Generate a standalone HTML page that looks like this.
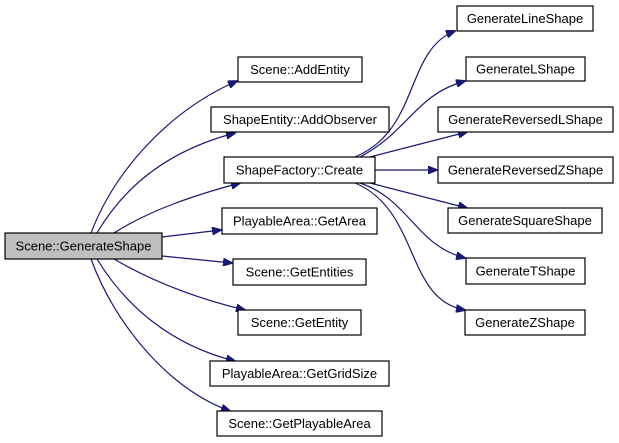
<!DOCTYPE html>
<html><head><meta charset="utf-8"><style>
html,body{margin:0;padding:0;background:#fff;}
svg{display:block;}
text{font-family:"Liberation Sans",Arial,sans-serif;font-size:13px;fill:#000;text-anchor:middle;}
.b{fill:#fff;stroke:#000;stroke-width:1.2;}
.e{fill:none;stroke:#191970;stroke-width:1.2;}
</style></head><body>
<svg width="619" height="443" viewBox="0 0 619 443" xmlns="http://www.w3.org/2000/svg">
<defs><marker id="a" markerWidth="10" markerHeight="8" refX="9" refY="4" orient="auto" markerUnits="userSpaceOnUse"><path d="M0,0 L10,4 L0,8 z" fill="#191970" stroke="#191970"/></marker></defs>
<path class="e" marker-end="url(#a)" d="M91,233 C115,170 170,110 237,81"/>
<path class="e" marker-end="url(#a)" d="M97,233 C125,185 170,150 235,133"/>
<path class="e" marker-end="url(#a)" d="M114,233 C150,210 195,195 240,183"/>
<path class="e" marker-end="url(#a)" d="M162,237 L221,230"/>
<path class="e" marker-end="url(#a)" d="M162,256 L232,263"/>
<path class="e" marker-end="url(#a)" d="M114,259 C150,280 195,298 245,310"/>
<path class="e" marker-end="url(#a)" d="M97,259 C125,305 170,345 235,361"/>
<path class="e" marker-end="url(#a)" d="M91,259 C115,325 170,390 230,411"/>
<path class="e" marker-end="url(#a)" d="M355,157 C420,130 405,50 455,31"/>
<path class="e" marker-end="url(#a)" d="M360,157 C410,130 415,95 465,81"/>
<path class="e" marker-end="url(#a)" d="M370,157 L467,132"/>
<path class="e" marker-end="url(#a)" d="M375,170 L437,170"/>
<path class="e" marker-end="url(#a)" d="M370,183 L467,208"/>
<path class="e" marker-end="url(#a)" d="M360,183 C410,200 415,245 465,258"/>
<path class="e" marker-end="url(#a)" d="M355,183 C420,210 405,300 465,310"/>
<rect x="5" y="233" width="157" height="26" fill="#bfbfbf" stroke="#000" stroke-width="1.2"/>
<text x="83.5" y="250.5">Scene::GenerateShape</text>
<rect class="b" x="238" y="57" width="124" height="25"/><text x="300" y="74">Scene::AddEntity</text>
<rect class="b" x="211" y="107" width="178" height="25"/><text x="300" y="124">ShapeEntity::AddObserver</text>
<rect class="b" x="224" y="157" width="151" height="26"/><text x="299.5" y="174.5">ShapeFactory::Create</text>
<rect class="b" x="222" y="208" width="155" height="26"/><text x="299.5" y="225.5">PlayableArea::GetArea</text>
<rect class="b" x="233" y="259" width="133" height="26"/><text x="299.5" y="276.5">Scene::GetEntities</text>
<rect class="b" x="238" y="310" width="123" height="25"/><text x="299.5" y="327">Scene::GetEntity</text>
<rect class="b" x="210" y="361" width="179" height="25"/><text x="299.5" y="378">PlayableArea::GetGridSize</text>
<rect class="b" x="217" y="411" width="165" height="25"/><text x="299.5" y="428">Scene::GetPlayableArea</text>
<rect class="b" x="457" y="6" width="136" height="25"/><text x="525" y="23">GenerateLineShape</text>
<rect class="b" x="466" y="57" width="119" height="24"/><text x="525.5" y="73.5">GenerateLShape</text>
<rect class="b" x="438" y="107" width="175" height="25"/><text x="525.5" y="124">GenerateReversedLShape</text>
<rect class="b" x="438" y="157" width="175" height="26"/><text x="525.5" y="174.5">GenerateReversedZShape</text>
<rect class="b" x="448" y="208" width="154" height="25"/><text x="525" y="225">GenerateSquareShape</text>
<rect class="b" x="466" y="258" width="119" height="26"/><text x="525.5" y="275.5">GenerateTShape</text>
<rect class="b" x="465" y="310" width="120" height="25"/><text x="525" y="327">GenerateZShape</text>
</svg>
</body></html>
